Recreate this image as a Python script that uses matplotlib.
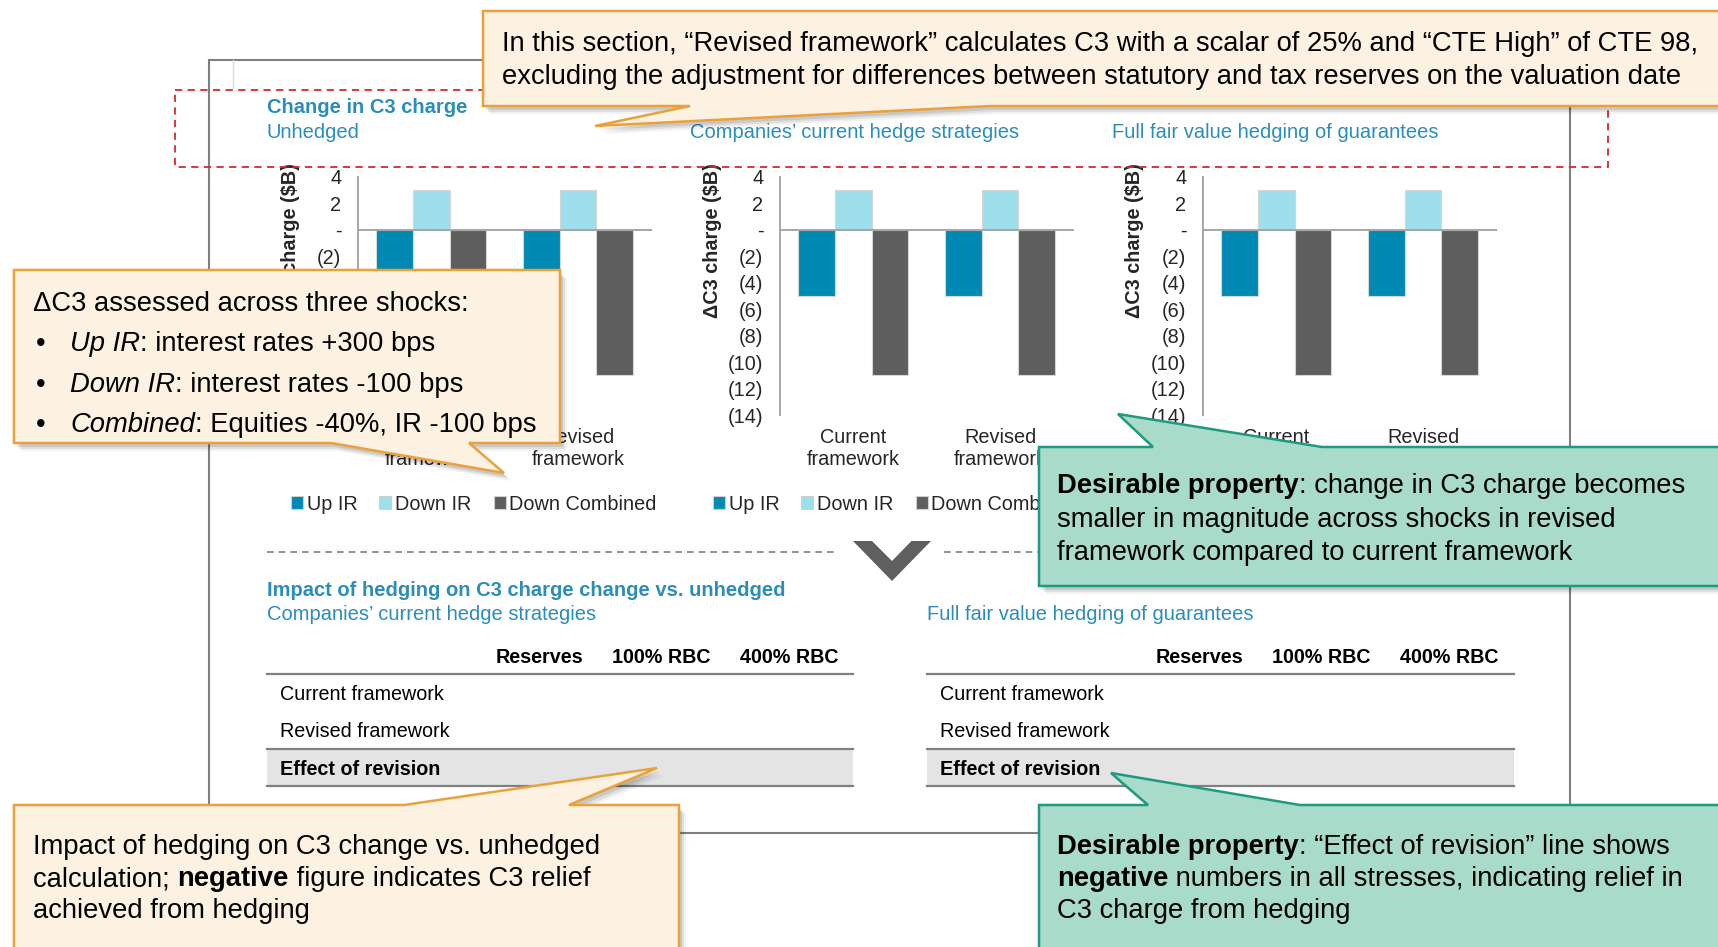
import numpy as np
import matplotlib
matplotlib.use("Agg")
import matplotlib.pyplot as plt
from matplotlib.patches import Polygon, Rectangle, Patch
from matplotlib.ticker import FuncFormatter

plt.rcParams['font.family'] = ['Liberation Sans', 'DejaVu Sans']

W, H = 1718, 947  # canvas in pixels, dpi 100

# ---- data ----
categories = ['Current\nframework', 'Revised\nframework']
shocks = ['Up IR', 'Down IR', 'Down Combined']
panel_titles = ['Unhedged', 'Companies’ current hedge strategies', 'Full fair value hedging of guarantees']

up_ir_unhedged = [-5, -5]
down_ir_unhedged = [3, 3]
combined_unhedged = [-11, -11]

up_ir_current_hedge = [-5, -5]
down_ir_current_hedge = [3, 3]
combined_current_hedge = [-11, -11]

up_ir_full_hedge = [-5, -5]
down_ir_full_hedge = [3, 3]
combined_full_hedge = [-11, -11]

table_cols = ['Reserves', '100% RBC', '400% RBC']
table_rows = ['Current framework', 'Revised framework', 'Effect of revision']

panels = [[up_ir_unhedged, down_ir_unhedged, combined_unhedged],
          [up_ir_current_hedge, down_ir_current_hedge, combined_current_hedge],
          [up_ir_full_hedge, down_ir_full_hedge, combined_full_hedge]]

shock_colors = ['#0089B3', '#9DDFEB', '#5E5E5E']
teal = '#2A8DBB'
txt_col = '#262626'

fig = plt.figure(figsize=(W / 100, H / 100), dpi=100, facecolor='white')

# background layer in pixel coordinates
bg = fig.add_axes([0, 0, 1, 1], zorder=0)
bg.set_xlim(0, W)
bg.set_ylim(H, 0)
bg.axis('off')

# slide frame
bg.add_patch(Rectangle((209, 60), 1361, 773, fill=False, ec='#808080', lw=1.5))
bg.plot([233, 233], [60, 88], color='#D9D9D9', lw=1)

# headings
bg.text(267, 113, 'Change in C3 charge', fontsize=14.5, fontweight='bold', color=teal)
bg.text(267, 138, panel_titles[0], fontsize=14.5, color=teal)
bg.text(690, 138, panel_titles[1], fontsize=14.5, color=teal)
bg.text(1112, 138, panel_titles[2], fontsize=14.5, color=teal)

# separator with chevron
bg.plot([267, 838], [552, 552], color='#7F7F7F', lw=1.2, ls=(0, (4, 3)))
bg.plot([944, 1519], [552, 552], color='#7F7F7F', lw=1.2, ls=(0, (4, 3)))
bg.add_patch(Polygon([(853, 541), (892, 581), (931, 541), (911.5, 541), (892, 561), (872, 541)],
                     closed=True, fc='#5F5F5F', ec='none'))

# lower section headings
bg.text(267, 596, 'Impact of hedging on C3 charge change vs. unhedged', fontsize=14.5,
        fontweight='bold', color=teal)
bg.text(267, 620, panel_titles[1], fontsize=14.5, color=teal)
bg.text(927, 620, panel_titles[2], fontsize=14.5, color=teal)

# tables (no values shown on the slide)
for x0, x1, col_right in [(267, 853, [583, 710, 838]), (927, 1514, [1243, 1371, 1499])]:
    bg.add_patch(Rectangle((x0, 749), x1 - x0, 37, fc='#E4E4E4', ec='none'))
    for yr in [674, 749, 786]:
        bg.plot([x0, x1], [yr, yr], color='#808080', lw=1.6)
    for c, xr in zip(table_cols, col_right):
        bg.text(xr, 663, c, fontsize=14.2, fontweight='bold', ha='right', color='black')
    for r, yb in zip(table_rows, [700, 737, 775]):
        bg.text(x0 + 13, yb, r, fontsize=14.2, color='black',
                fontweight='bold' if r == 'Effect of revision' else 'normal')


# ---- the three bar charts ----
def paren_fmt(v, pos):
    v = int(round(v))
    if v == 0:
        return '-'
    if v < 0:
        return '(%d)' % -v
    return '%d' % v


panel_left = [358, 780, 1203]
ax_w, ax_top, ax_bot = 293.5, 176.7, 415.0
x = np.arange(len(categories))
bw = 0.25
for i in range(3):
    left = panel_left[i]
    ax = fig.add_axes([left / W, 1 - ax_bot / H, ax_w / W, (ax_bot - ax_top) / H], zorder=1)
    ax.patch.set_alpha(0)
    for k in range(3):
        ax.bar(x + (k - 1) * bw, panels[i][k], bw, color=shock_colors[k],
               edgecolor='#D6D6D6', linewidth=0.8, zorder=2)
    ax.axhline(0, color='#A6A6A6', lw=1.4, zorder=3)
    ax.set_xlim(-0.5, 1.5)
    ax.set_ylim(-14, 4)
    ax.set_yticks(range(-14, 5, 2))
    ax.yaxis.set_major_formatter(FuncFormatter(paren_fmt))
    ax.set_xticks(x)
    ax.set_xticklabels(categories)
    ax.tick_params(length=0, labelsize=14.3, colors=txt_col)
    ax.tick_params(axis='y', pad=12)
    ax.tick_params(axis='x', pad=9)
    for s in ['top', 'right', 'bottom']:
        ax.spines[s].set_visible(False)
    ax.spines['left'].set_color('#A6A6A6')
    ax.spines['left'].set_linewidth(1.4)
    ax.set_ylabel('ΔC3 charge ($B)', fontsize=14.3, fontweight='bold', color=txt_col)
    ax.yaxis.set_label_coords(-68 / ax_w, (ax_bot - 241) / (ax_bot - ax_top))
    ax.yaxis.label.set_va('center')
    handles = [Patch(facecolor=c, edgecolor='#D0D0D0', lw=0.8) for c in shock_colors]
    leg = ax.legend(handles, shocks, loc='center left', ncol=3, frameon=False,
                    bbox_to_anchor=(-67 / ax_w, (ax_bot - 504) / (ax_bot - ax_top)),
                    fontsize=14.3, handlelength=0.6, handleheight=0.6, handletextpad=0.2,
                    columnspacing=1.1, borderpad=0, borderaxespad=0)
    for t in leg.get_texts():
        t.set_color(txt_col)

# ---- overlay: red dashed box and callouts ----
ov = fig.add_axes([0, 0, 1, 1], zorder=5)
ov.set_xlim(0, W)
ov.set_ylim(H, 0)
ov.axis('off')
ov.patch.set_alpha(0)

ov.add_patch(Rectangle((175, 90), 1433, 77, fill=False, ec='#D42A2A', lw=1.3,
                       ls=(0, (4, 3)), zorder=1))

YEL_FC, YEL_EC = '#FDF1E1', '#E9A23B'
GRN_FC, GRN_EC = '#A8DBC9', '#1E9A80'


def callout(x0, y0, x1, y1, side, b0, b1, tip, fc, ec, z):
    if side == 'bottom':
        pts = [(x0, y0), (x1, y0), (x1, y1), (b1, y1), tip, (b0, y1), (x0, y1)]
    else:
        pts = [(x0, y0), (b0, y0), tip, (b1, y0), (x1, y0), (x1, y1), (x0, y1)]
    for dx, dy, a in [(7, 8, 0.05), (5, 6, 0.08), (3, 4, 0.1)]:
        ov.add_patch(Polygon([(px + dx, py + dy) for px, py in pts], closed=True,
                             fc='black', ec='none', alpha=a, zorder=z))
    ov.add_patch(Polygon(pts, closed=True, fc=fc, ec=ec, lw=1.8, zorder=z + 1))


def rich(xp, yp, runs, size, z):
    prev = None
    for txt, weight, style in runs:
        if prev is None:
            prev = ov.text(xp, yp, txt, fontsize=size, fontweight=weight, fontstyle=style,
                           va='baseline', ha='left', color='black', zorder=z)
        else:
            prev = ov.annotate(txt, xy=(1, 0), xycoords=prev, fontsize=size, fontweight=weight,
                               fontstyle=style, va='bottom', ha='left', color='black', zorder=z)


FS = 19.7
N, B, I = 'normal', 'bold', 'italic'

# top note
callout(483, 11, 1730, 106, 'bottom', 690, 990, (595, 126), YEL_FC, YEL_EC, 10)
rich(502, 51, [('In this section, “Revised framework” calculates C3 with a scalar of 25% and “CTE High” of CTE 98,', N, N)], FS, 12)
rich(502, 84, [('excluding the adjustment for differences between statutory and tax reserves on the valuation date', N, N)], FS, 12)

# shocks note
callout(14, 270, 560, 443, 'bottom', 331, 469, (504, 473), YEL_FC, YEL_EC, 20)
rich(33, 311, [('ΔC3 assessed across three shocks:', N, N)], FS, 22)
bullet_lines = [[('Up IR', N, I), (': interest rates +300 bps', N, N)],
                [('Down IR', N, I), (': interest rates -100 bps', N, N)],
                [('Combined', N, I), (': Equities -40%, IR -100 bps', N, N)]]
for yb, runs in zip([351, 391.5, 432], bullet_lines):
    ov.text(36, yb, '•', fontsize=FS, va='baseline', color='black', zorder=22)
    rich(70, yb, runs, FS, 22)

# desirable property 1
callout(1039, 447, 1730, 586, 'top', 1153, 1322, (1118, 414), GRN_FC, GRN_EC, 30)
rich(1057, 493, [('Desirable property', B, N), (': change in C3 charge becomes', N, N)], FS, 32)
rich(1057, 527, [('smaller in magnitude across shocks in revised', N, N)], FS, 32)
rich(1057, 560, [('framework compared to current framework', N, N)], FS, 32)

# hedging note
callout(14, 805, 679, 960, 'top', 404, 569, (657, 768), YEL_FC, YEL_EC, 40)
rich(33, 854, [('Impact of hedging on C3 change vs. unhedged', N, N)], FS, 42)
rich(33, 886, [('calculation; ', N, N), ('negative', B, N), (' figure indicates C3 relief', N, N)], FS, 42)
rich(33, 918, [('achieved from hedging', N, N)], FS, 42)

# desirable property 2
callout(1039, 805, 1730, 960, 'top', 1148, 1300, (1111, 773), GRN_FC, GRN_EC, 50)
rich(1057, 854, [('Desirable property', B, N), (': “Effect of revision” line shows', N, N)], FS, 52)
rich(1057, 886, [('negative', B, N), (' numbers in all stresses, indicating relief in', N, N)], FS, 52)
rich(1057, 918, [('C3 charge from hedging', N, N)], FS, 52)

fig.savefig('out.png', dpi=100, facecolor='white')
